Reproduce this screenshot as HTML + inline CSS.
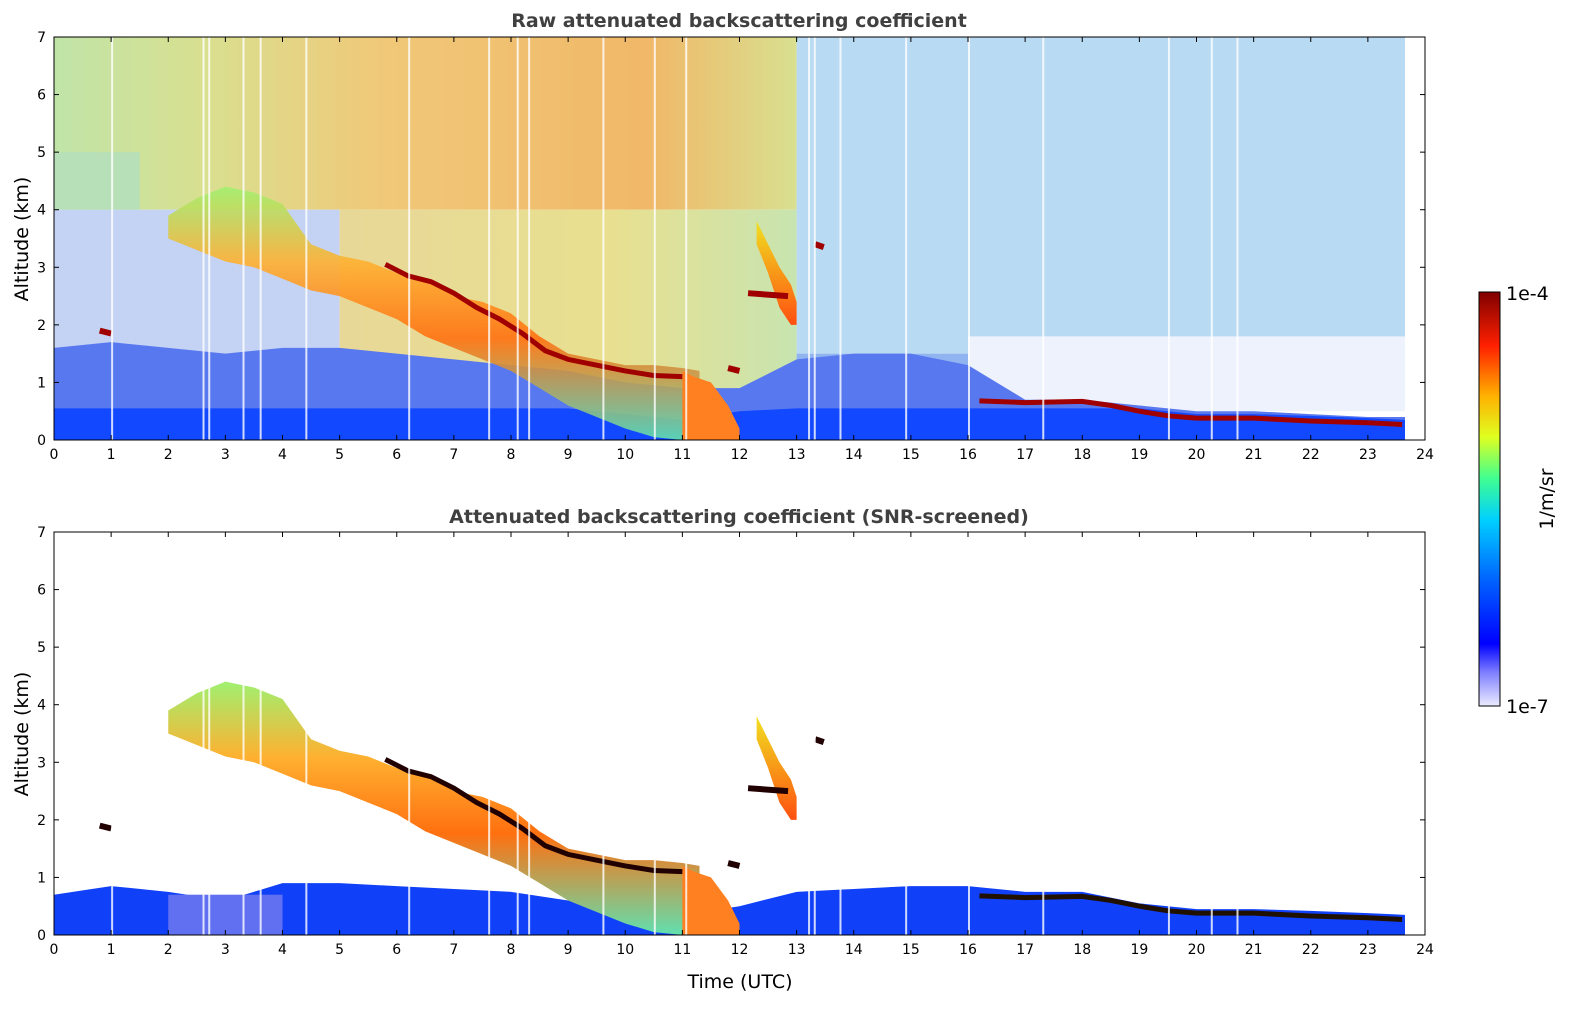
<!DOCTYPE html>
<html><head><meta charset="utf-8"><style>
body{margin:0;background:#fff;width:1595px;height:1020px;overflow:hidden;font-family:"Liberation Sans","DejaVu Sans",sans-serif}
</style></head><body>
<svg id="chart" width="1595" height="1020" xmlns="http://www.w3.org/2000/svg" font-family="DejaVu Sans, Liberation Sans, sans-serif">
<defs>
<linearGradient id="cbar" x1="0" y1="1" x2="0" y2="0">
<stop offset="0" stop-color="#ececff"/><stop offset="0.08" stop-color="#8080ff"/><stop offset="0.15" stop-color="#0000ff"/>
<stop offset="0.3" stop-color="#0060ff"/><stop offset="0.45" stop-color="#00d0ff"/><stop offset="0.55" stop-color="#40ff90"/>
<stop offset="0.65" stop-color="#e0ff20"/><stop offset="0.75" stop-color="#ffb000"/><stop offset="0.87" stop-color="#ff2000"/><stop offset="1" stop-color="#800000"/>
</linearGradient>
<linearGradient id="upperNoise" x1="0" y1="0" x2="1" y2="0">
<stop offset="0" stop-color="#c0e4a8"/><stop offset="0.2" stop-color="#d8e090"/><stop offset="0.45" stop-color="#f0c878"/>
<stop offset="0.8" stop-color="#f0b868"/><stop offset="1" stop-color="#d8e090"/>
</linearGradient>
<linearGradient id="midNoise" x1="0" y1="0" x2="1" y2="0">
<stop offset="0" stop-color="#e8d898"/><stop offset="0.6" stop-color="#e8e090"/><stop offset="1" stop-color="#c8e4b0"/>
</linearGradient>
<linearGradient id="layerGrad" x1="0" y1="0" x2="0" y2="1">
<stop offset="0" stop-color="#a0f070"/><stop offset="0.3" stop-color="#ffb030"/><stop offset="0.6" stop-color="#ff7010"/><stop offset="1" stop-color="#60e0b0"/>
</linearGradient>
<linearGradient id="plumeGrad" x1="0" y1="0" x2="0" y2="1">
<stop offset="0" stop-color="#f0e020"/><stop offset="1" stop-color="#ff5010"/>
</linearGradient>
</defs>
<g id="top"></g>
<g id="bot"></g>
<text x="739" y="27" text-anchor="middle" font-size="19" font-weight="bold" fill="#404040">Raw attenuated backscattering coefficient</text>
<text x="739" y="523" text-anchor="middle" font-size="19" font-weight="bold" fill="#404040">Attenuated backscattering coefficient (SNR-screened)</text>
<text x="740" y="988" text-anchor="middle" font-size="19" fill="#000">Time (UTC)</text>
<text transform="translate(28,239) rotate(-90)" text-anchor="middle" font-size="19">Altitude (km)</text>
<text transform="translate(28,734) rotate(-90)" text-anchor="middle" font-size="19">Altitude (km)</text>
<rect x="1479" y="292" width="21" height="414" fill="url(#cbar)" stroke="#000" stroke-width="1"/>
<text x="1506" y="300" font-size="19">1e-4</text>
<text x="1506" y="713" font-size="19">1e-7</text>
<text transform="translate(1553,499) rotate(-90)" text-anchor="middle" font-size="19">1/m/sr</text>
</svg>
<script>
const xTicks=[0,1,2,3,4,5,6,7,8,9,10,11,12,13,14,15,16,17,18,19,20,21,22,23,24];
const yTicks=[0,1,2,3,4,5,6,7];
const layerTime=[2,2.5,3,3.5,4,4.5,5,5.5,6,6.5,7,7.5,8,8.5,9,9.5,10,10.5,11,11.3];
const layerTop=[3.9,4.2,4.4,4.3,4.1,3.4,3.2,3.1,2.9,2.8,2.5,2.4,2.2,1.8,1.5,1.4,1.3,1.3,1.25,1.2];
const layerBottom=[3.5,3.3,3.1,3.0,2.8,2.6,2.5,2.3,2.1,1.8,1.6,1.4,1.2,0.9,0.6,0.4,0.2,0.05,0,0];
const cloudTime=[5.8,6.2,6.6,7.0,7.4,7.8,8.2,8.6,9.0,9.5,10,10.5,11];
const cloudAlt=[3.05,2.85,2.75,2.55,2.3,2.1,1.85,1.55,1.4,1.3,1.2,1.12,1.1];
const blTime=[0,1,2,3,4,5,6,7,8,9,10,11,12,13,14,15,16,17,18,19,20,21,22,23,23.65];
const blTop=[0.7,0.85,0.75,0.6,0.9,0.9,0.85,0.8,0.75,0.6,0.45,0.35,0.5,0.75,0.8,0.85,0.85,0.75,0.75,0.55,0.45,0.45,0.42,0.38,0.35];
const rawNoiseTop=[1.6,1.7,1.6,1.5,1.6,1.6,1.5,1.4,1.3,1.2,1.0,0.9,0.9,1.4,1.5,1.5,1.3,0.7,0.7,0.6,0.5,0.5,0.45,0.4,0.4];
const pblTime=[16.2,17,18,18.5,19,19.5,20,21,22,23,23.6];
const pblAlt=[0.68,0.65,0.67,0.6,0.5,0.42,0.38,0.38,0.33,0.3,0.27];
const plumeTime=[11,11.2,11.5,11.8,12];
const plumeTop=[1.2,1.1,1.0,0.6,0.2];
const fallTime=[12.3,12.5,12.7,12.9,13.0];
const fallTop=[3.8,3.4,3.0,2.7,2.4];
const fallBottom=[3.4,2.9,2.3,2.0,2.0];
const blobTime=[0.9,12.5,13.4,11.9];
const blobAlt=[1.9,2.55,3.4,1.25];
const blobLen=[0.2,0.7,0.15,0.2];
const gapTimes=[1.0,2.6,2.7,3.3,3.6,4.4,6.2,7.6,8.1,8.3,9.6,10.5,11.05,13.2,13.3,13.75,14.9,16.0,17.3,19.5,20.25,20.7];
const dataEnd=23.65;
const NS="http://www.w3.org/2000/svg";
function mk(p,tag,attrs,name){const e=document.createElementNS(NS,tag);for(const k in attrs)e.setAttribute(k,attrs[k]);


p.appendChild(e);return e;}
function panel(g,y0,raw){
 const X0=54,X1=1425,Y1=y0+403;
 const sx=t=>X0+t*(X1-X0)/24, sy=a=>Y1-a*(403/7);
 const poly=(ts,top,bot)=>ts.map((t,i)=>sx(t)+','+sy(top[i])).concat(ts.map((t,i)=>sx(t)+','+sy(bot[i])).reverse()).join(' ');
 const line=(ts,as)=>ts.map((t,i)=>sx(t)+','+sy(as[i])).join(' ');
 const rect=(t0,t1,a0,a1,fill,name)=>mk(g,'rect',{x:sx(t0),y:sy(a1),width:sx(t1)-sx(t0),height:sy(a0)-sy(a1),fill:fill},name);
 const zeros=blTime.map(()=>0);
 if(raw){
  rect(0,13,4,7,'url(#upperNoise)','upper-noise');
  rect(0,5,1.2,4,'#c4d2f4','mid-noise-left');
  rect(0,1.5,4,5,'#b8e0b8','left-green-noise');
  rect(5,13,0.8,4,'url(#midNoise)','mid-noise-right');
  rect(13,dataEnd,1.5,7,'#b8daf2','right-noise');
  rect(13,16,0.5,1.5,'#90b4f0','right-low-noise');
  rect(16,dataEnd,0.5,1.8,'#eef2fc','clear-zone');
  mk(g,'polygon',{points:poly(blTime,rawNoiseTop,zeros),fill:'#5878f0'},'boundary-noise');
  mk(g,'polygon',{points:poly(blTime,blTop.map(v=>Math.min(v,0.55)),zeros),fill:'#1248ff'},'boundary-layer');
 } else {
  mk(g,'polygon',{points:poly(blTime,blTop,zeros),fill:'#1040f8'},'boundary-layer');
  rect(2,4,0,0.7,'#6070f0','boundary-light');
 }
 mk(g,'polygon',{points:poly(layerTime,layerTop,layerBottom),fill:'url(#layerGrad)',opacity:raw?0.9:1},'aerosol-layer');
 mk(g,'polygon',{points:poly(plumeTime,plumeTop,plumeTime.map(()=>0)),fill:'#ff8020'},'plume');
 mk(g,'polygon',{points:poly(fallTime,fallTop,fallBottom),fill:'url(#plumeGrad)'},'fallstreak');
 blobTime.forEach((t,i)=>{mk(g,'line',{x1:sx(t-blobLen[i]/2),x2:sx(t+blobLen[i]/2),y1:sy(blobAlt[i]),y2:sy(blobAlt[i]-0.05),stroke:raw?'#a00000':'#200000','stroke-width':6},'small-cloud');});
 mk(g,'polyline',{points:line(cloudTime,cloudAlt),fill:'none',stroke:raw?'#a00000':'#200000','stroke-width':5},'cloud-line');
 mk(g,'polyline',{points:line(pblTime,pblAlt),fill:'none',stroke:raw?'#a00000':'#201000','stroke-width':5},'pbl-cloud-line');
 gapTimes.forEach(t=>{mk(g,'rect',{x:sx(t),y:sy(7),width:2,height:403,fill:'#fff',opacity:0.8},'data-gap');});
 mk(g,'rect',{x:sx(dataEnd),y:sy(7),width:X1-sx(dataEnd),height:403,fill:'#fff'},'no-data');
 mk(g,'rect',{x:X0,y:y0,width:X1-X0,height:403,fill:'none',stroke:'#000','stroke-width':1},'plot-frame');
 xTicks.forEach(t=>{mk(g,'line',{x1:sx(t),x2:sx(t),y1:Y1,y2:Y1-5,stroke:'#000'},'x-tick');
  mk(g,'line',{x1:sx(t),x2:sx(t),y1:y0,y2:y0+5,stroke:'#000'},'x-tick-top');
  const tx=mk(g,'text',{x:sx(t),y:Y1+19,'text-anchor':'middle','font-size':14},'x-tick-label');tx.textContent=t;});
 yTicks.forEach(a=>{mk(g,'line',{x1:X0,x2:X0+5,y1:sy(a),y2:sy(a),stroke:'#000'},'y-tick');
  mk(g,'line',{x1:X1,x2:X1-5,y1:sy(a),y2:sy(a),stroke:'#000'},'y-tick-right');
  const tx=mk(g,'text',{x:X0-8,y:sy(a)+5,'text-anchor':'end','font-size':14},'y-tick-label');tx.textContent=a;});
}
panel(document.getElementById('top'),37,true);
panel(document.getElementById('bot'),532,false);
</script>
</body></html>
